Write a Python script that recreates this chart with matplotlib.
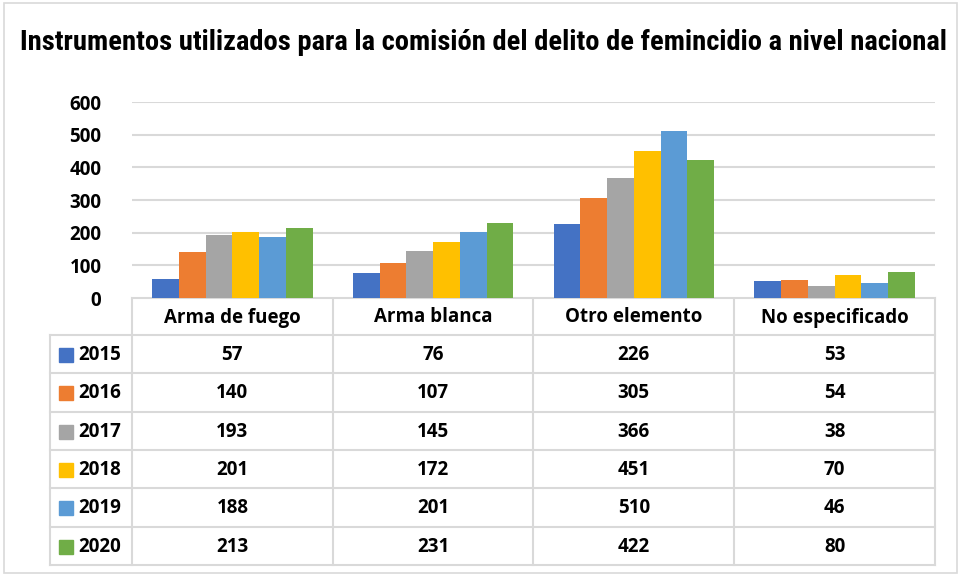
import numpy as np
import matplotlib
matplotlib.use("Agg")
import matplotlib.pyplot as plt
from matplotlib.patches import Rectangle

# -------------------------
# DATA
# -------------------------
title = "Instrumentos utilizados para la comisión del delito de femincidio a nivel nacional"
categories = ["Arma de fuego", "Arma blanca", "Otro elemento", "No especificado"]
years = ["2015", "2016", "2017", "2018", "2019", "2020"]
v2015 = [57, 76, 226, 53]
v2016 = [140, 107, 305, 54]
v2017 = [193, 145, 366, 38]
v2018 = [201, 172, 451, 70]
v2019 = [188, 201, 510, 46]
v2020 = [213, 231, 422, 80]
series = [v2015, v2016, v2017, v2018, v2019, v2020]
colors = ["#4472C4", "#ED7D31", "#A5A5A5", "#FFC000", "#5B9BD5", "#70AD47"]
yticks = [0, 100, 200, 300, 400, 500, 600]

# -------------------------
# LAYOUT (pixels)
# -------------------------
W, H = 962, 577
plot_l, plot_r = 132, 935
plot_top, plot_bot = 102, 298
row_h = 38.3
head_h = 37
legend_l = 50
grid_c = "#D9D9D9"

plt.rcParams["font.family"] = ["Open Sans", "DejaVu Sans"]

fig = plt.figure(figsize=(W / 100, H / 100), dpi=100)
fig.patch.set_facecolor("white")

# background layer in pixel coordinates
bg = fig.add_axes([0, 0, 1, 1])
bg.set_xlim(0, W)
bg.set_ylim(H, 0)
bg.axis("off")
bg.add_patch(Rectangle((4, 3), W - 9, H - 7, fill=False, ec="#D9D9D9", lw=1.2))

bg.text(W / 2 + 3, 42, title, ha="center", va="center", fontsize=20.5,
        fontweight="bold", family=["Roboto Condensed", "Liberation Sans Narrow", "DejaVu Sans"])

# -------------------------
# BAR CHART
# -------------------------
ax = fig.add_axes([plot_l / W, 1 - plot_bot / H,
                   (plot_r - plot_l) / W, (plot_bot - plot_top) / H])
x = np.arange(len(categories))
n = len(series)
group = 0.8
bw = group / n
for i, vals in enumerate(series):
    ax.bar(x - group / 2 + bw * (i + 0.5), vals, bw, color=colors[i], zorder=3)

ax.set_xlim(-0.5, len(categories) - 0.5)
ax.set_ylim(0, 600)
ax.set_yticks(yticks)
ax.set_yticklabels([str(t) for t in yticks], fontsize=13.5, fontweight="bold")
ax.set_xticks([])
ax.tick_params(axis="y", length=0, pad=22)
ax.grid(axis="y", color=grid_c, lw=1.5, zorder=0)
for s in ax.spines.values():
    s.set_visible(False)

# -------------------------
# DATA TABLE
# -------------------------
col_w = (plot_r - plot_l) / len(categories)
col_edges = [plot_l + col_w * k for k in range(len(categories) + 1)]
table_top = plot_bot
table_bot = table_top + head_h + row_h * len(years)
lc = "#D9D9D9"
lw = 1.5

# horizontal lines
bg.plot([plot_l, plot_r], [table_top, table_top], color=lc, lw=lw)
for r in range(len(years) + 1):
    yy = table_top + head_h + row_h * r
    bg.plot([legend_l, plot_r], [yy, yy], color=lc, lw=lw)
# vertical lines
for xe in col_edges:
    bg.plot([xe, xe], [table_top, table_bot], color=lc, lw=lw)
bg.plot([legend_l, legend_l], [table_top + head_h, table_bot], color=lc, lw=lw)

# header
for k, cat in enumerate(categories):
    bg.text((col_edges[k] + col_edges[k + 1]) / 2, table_top + head_h / 2 + 1, cat,
            ha="center", va="center", fontsize=13.5, fontweight="bold")

# rows
for r, (yr, vals) in enumerate(zip(years, series)):
    yc = table_top + head_h + row_h * (r + 0.5) + 1
    bg.add_patch(Rectangle((legend_l + 9, yc - 7), 14, 14, color=colors[r]))
    bg.text(legend_l + 28, yc, yr, ha="left", va="center", fontsize=13.5, fontweight="bold")
    for k, v in enumerate(vals):
        bg.text((col_edges[k] + col_edges[k + 1]) / 2, yc, str(v),
                ha="center", va="center", fontsize=13.5, fontweight="bold")

fig.savefig("out.png", dpi=100, facecolor="white")
